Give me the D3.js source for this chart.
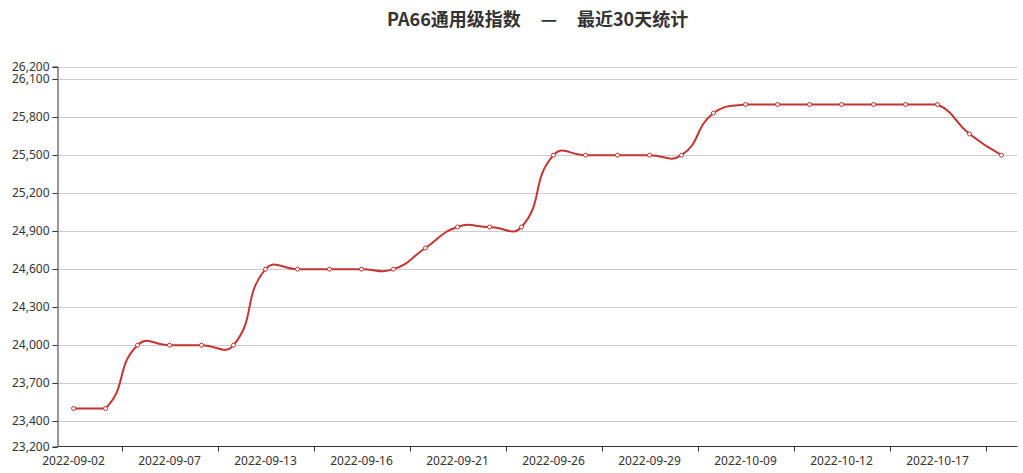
<!DOCTYPE html>
<html>
<head>
<meta charset="utf-8">
<script src="https://cdn.jsdelivr.net/npm/d3@7"></script>
<style>
    body{margin:0;background:#fff;}
    svg{display:block;}
    .tickLabel{font-family:"Noto Sans",sans-serif;font-size:12px;fill:#333;}
    .title{font-family:"Noto Sans CJK SC",sans-serif;font-size:18px;font-weight:bold;fill:#333;}
</style>
</head>
<body>
<svg id="chart" width="1023" height="473"></svg>
<script>
var dates=["2022-09-02","2022-09-05","2022-09-06","2022-09-07","2022-09-08","2022-09-09",
    "2022-09-13","2022-09-14","2022-09-15","2022-09-16","2022-09-19","2022-09-20",
    "2022-09-21","2022-09-22","2022-09-23","2022-09-26","2022-09-27","2022-09-28",
    "2022-09-29","2022-09-30","2022-10-08","2022-10-09","2022-10-10","2022-10-11",
    "2022-10-12","2022-10-13","2022-10-14","2022-10-17","2022-10-18","2022-10-19"];
var prices=[23500,23500,24000,24000,24000,24000,
    24600,24600,24600,24600,24600,24767,
    24933,24933,24933,25500,25500,25500,
    25500,25500,25833,25900,25900,25900,
    25900,25900,25900,25900,25667,25500];
var yTicks=[23200,23400,23700,24000,24300,24600,24900,25200,25500,25800,26100,26200];
var titleParts=["PA66通用级指数","—","最近30天统计"];

var space={width:1023,height:473,margin:{top:66.5,right:5.5,bottom:26.5,left:57.5}};
var lineColor="#c23531";

var svg=d3.select("#chart");
var x=d3.scaleBand()
    .domain(dates)
    .range([space.margin.left,space.width-space.margin.right])
    .padding(0);
var y=d3.scaleLinear()
    .domain([d3.min(yTicks),d3.max(yTicks)])
    .range([space.height-space.margin.bottom,space.margin.top]);

//grid lines
svg.append("g")
    .selectAll("line.grid")
    .data(yTicks.slice(1))
    .enter()
    .append("line")
    .attr("class","grid")
    .attr("x1",space.margin.left)
    .attr("x2",space.width-space.margin.right)
    .attr("y1",function (d) {return Math.round(y(d))+0.5})
    .attr("y2",function (d) {return Math.round(y(d))+0.5})
    .attr("stroke","#ccc")
    .attr("stroke-width",1);

//y axis
var yAxis=svg.append("g")
    .attr("transform","translate("+space.margin.left+",0)")
    .call(d3.axisLeft(y).tickValues(yTicks).tickSize(5).tickPadding(3).tickFormat(d3.format(",")));
yAxis.select(".domain").attr("stroke","#333");
yAxis.selectAll(".tick line").attr("stroke","#333");
yAxis.selectAll(".tick text").attr("class","tickLabel").attr("fill",null);
yAxis.selectAll(".tick").attr("transform",function (d) {return "translate(0,"+(Math.round(y(d))+0.5)+")"});

//x axis, labels every 3rd category, ticks on boundaries in between like the original
var xAxis=svg.append("g")
    .attr("transform","translate(0,"+(space.height-space.margin.bottom)+")");
xAxis.append("line")
    .attr("x1",space.margin.left)
    .attr("x2",space.width-space.margin.right)
    .attr("stroke","#333");
var labelDates=dates.filter(function (d,i) {return i%3==0});
xAxis.selectAll("line.xt")
    .data(labelDates)
    .enter()
    .append("line")
    .attr("class","xt")
    .attr("x1",function (d) {return Math.round(x(d)+x.bandwidth()*2)+0.5})
    .attr("x2",function (d) {return Math.round(x(d)+x.bandwidth()*2)+0.5})
    .attr("y2",5)
    .attr("stroke","#333");
xAxis.selectAll("text")
    .data(labelDates)
    .enter()
    .append("text")
    .attr("class","tickLabel")
    .attr("text-anchor","middle")
    .attr("x",function (d) {return x(d)+x.bandwidth()/2})
    .attr("y",18)
    .text(function (d) {return d});

//echarts style smoothing, control points kept inside the bbox of the points
function smoothPath(pts,smooth) {
    var minX=d3.min(pts,function (p) {return p[0]}),maxX=d3.max(pts,function (p) {return p[0]});
    var minY=d3.min(pts,function (p) {return p[1]}),maxY=d3.max(pts,function (p) {return p[1]});
    function clamp(p) {
        return [Math.min(maxX,Math.max(minX,p[0])),Math.min(maxY,Math.max(minY,p[1]))]
    }
    var cps=[];
    for (var i=0;i<pts.length;i++){
        var p=pts[i];
        if(i==0||i==pts.length-1){
            cps.push(p.slice());
            continue;
        }
        var prev=pts[i-1],next=pts[i+1];
        var vx=(next[0]-prev[0])*smooth,vy=(next[1]-prev[1])*smooth;
        var d0=Math.hypot(p[0]-prev[0],p[1]-prev[1]),
            d1=Math.hypot(p[0]-next[0],p[1]-next[1]);
        var sum=d0+d1;
        if(sum!==0){d0/=sum;d1/=sum;}
        cps.push(clamp([p[0]-vx*d0,p[1]-vy*d0]));
        cps.push(clamp([p[0]+vx*d1,p[1]+vy*d1]));
    }
    var path=d3.path();
    path.moveTo(pts[0][0],pts[0][1]);
    for (var j=1;j<pts.length;j++){
        var c0=cps[(j-1)*2],c1=cps[(j-1)*2+1];
        path.bezierCurveTo(c0[0],c0[1],c1[0],c1[1],pts[j][0],pts[j][1]);
    }
    return path.toString()
}

var points=dates.map(function (d,i) {
    return [x(d)+x.bandwidth()/2,y(prices[i])]
});

svg.append("path")
    .attr("d",smoothPath(points,0.5))
    .attr("fill","none")
    .attr("stroke",lineColor)
    .attr("stroke-width",2)
    .attr("stroke-linejoin","bevel");

svg.append("g")
    .selectAll("circle")
    .data(points)
    .enter()
    .append("circle")
    .attr("cx",function (d) {return d[0]})
    .attr("cy",function (d) {return d[1]})
    .attr("r",2)
    .attr("fill","#fff")
    .attr("stroke",lineColor)
    .attr("stroke-width",1);

//title
var title=svg.append("g").attr("class","title");
title.append("text").attr("class","title").attr("x",387).attr("y",26).text(titleParts[0]);
title.append("text").attr("class","title").attr("x",549).attr("y",26).attr("text-anchor","middle").text(titleParts[1]);
title.append("text").attr("class","title").attr("x",577).attr("y",26).text(titleParts[2]);
</script>
</body>
</html>
